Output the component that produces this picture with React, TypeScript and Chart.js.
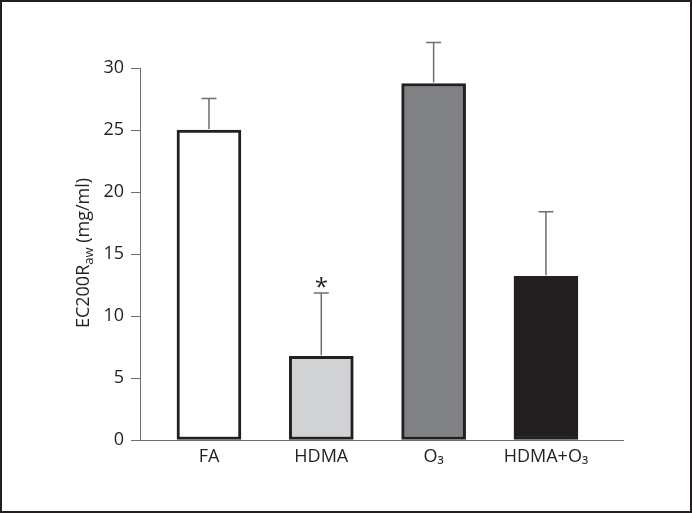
import React, { useEffect, useRef } from "react";
import { Chart, registerables } from "chart.js";

Chart.register(...registerables);

const categories = ["FA", "HDMA", "O₃", "HDMA+O₃"];
const means = [25.0, 6.75, 28.75, 13.2];
const errors = [2.55, 5.1, 3.3, 5.2];
const barColors = ["#ffffff", "#d1d2d4", "#808184", "#231f20"];
const significance = ["", "*", "", ""];
const yTicks = [0, 5, 10, 15, 20, 25, 30];

const FONT = "'Open Sans', 'DejaVu Sans', sans-serif";

const overlay = {
  id: "overlay",
  afterDatasetsDraw(chart: any) {
    const ctx = chart.ctx;
    const xs = chart.scales.x;
    const ys = chart.scales.y;
    ctx.save();
    ctx.strokeStyle = "#6d6e70";
    ctx.lineWidth = 1.5;
    means.forEach((m, i) => {
      const x = xs.getPixelForValue(i + 1);
      const y0 = ys.getPixelForValue(m);
      const y1 = ys.getPixelForValue(m + errors[i]);
      ctx.beginPath();
      ctx.moveTo(x, y0 - 1);
      ctx.lineTo(x, y1);
      ctx.moveTo(x - 7.5, y1);
      ctx.lineTo(x + 7.5, y1);
      ctx.stroke();
      if (significance[i]) {
        ctx.fillStyle = "#231f20";
        ctx.font = `24px ${FONT}`;
        ctx.textAlign = "center";
        ctx.textBaseline = "middle";
        ctx.fillText(significance[i], x, y1 - 5);
      }
    });
    ctx.fillStyle = "#231f20";
    ctx.translate(84, 253);
    ctx.rotate(-Math.PI / 2);
    const main1 = "EC200R";
    const sub = "aw";
    const main2 = " (mg/ml)";
    ctx.font = `18px ${FONT}`;
    const w1 = ctx.measureText(main1).width;
    const w3 = ctx.measureText(main2).width;
    ctx.font = `13px ${FONT}`;
    const w2 = ctx.measureText(sub).width;
    const total = w1 + w2 + w3;
    let cx = -total / 2;
    ctx.textAlign = "left";
    ctx.textBaseline = "middle";
    ctx.font = `18px ${FONT}`;
    ctx.fillText(main1, cx, 0);
    cx += w1;
    ctx.font = `13px ${FONT}`;
    ctx.fillText(sub, cx, 5);
    cx += w2;
    ctx.font = `18px ${FONT}`;
    ctx.fillText(main2, cx, 0);
    ctx.restore();
    ctx.save();
    ctx.strokeStyle = "#231f20";
    ctx.lineWidth = 2;
    ctx.strokeRect(1, 1, chart.width - 2, chart.height - 2);
    ctx.restore();
  },
};

export default function App() {
  const ref = useRef<HTMLCanvasElement>(null);
  useEffect(() => {
    document.body.style.margin = "0";
    const chart = new Chart(ref.current!, {
      type: "bar",
      data: {
        datasets: [
          {
            data: means.map((v, i) => ({ x: i + 1, y: v })),
            backgroundColor: barColors,
            borderColor: "#231f20",
            borderWidth: 3,
            borderSkipped: false,
            barThickness: 64,
          },
        ],
      },
      options: {
        animation: false,
        responsive: false,
        plugins: { legend: { display: false }, tooltip: { enabled: false } },
        layout: { padding: { top: 68, right: 69, left: 0, bottom: 0 } },
        scales: {
          x: {
            type: "linear",
            offset: false,
            min: 0.386,
            max: 4.686,
            afterBuildTicks: (scale: any) => {
              scale.ticks = categories.map((_, i) => ({ value: i + 1 }));
            },
            afterFit: (scale: any) => {
              scale.height = 73;
            },
            ticks: {
              autoSkip: false,
              maxRotation: 0,
              padding: 6,
              color: "#231f20",
              font: { size: 18, family: FONT },
              callback: (v: any) => categories[Math.round(v) - 1] ?? "",
            },
            grid: { display: false, drawTicks: false, offset: false },
            border: { display: true, color: "#6d6e70", width: 1 },
          },
          y: {
            min: 0,
            max: 30,
            afterBuildTicks: (scale: any) => {
              scale.ticks = yTicks.map((v) => ({ value: v }));
            },
            afterFit: (scale: any) => {
              scale.width = 140;
            },
            ticks: {
              padding: 7,
              color: "#231f20",
              font: { size: 18, family: FONT },
            },
            grid: {
              drawOnChartArea: false,
              drawTicks: true,
              tickLength: 9,
              color: "#6d6e70",
            },
            border: { display: true, color: "#6d6e70", width: 1 },
          },
        },
      },
      plugins: [overlay],
    });
    return () => chart.destroy();
  }, []);
  return <canvas ref={ref} width={692} height={513} style={{ display: "block" }} />;
}
